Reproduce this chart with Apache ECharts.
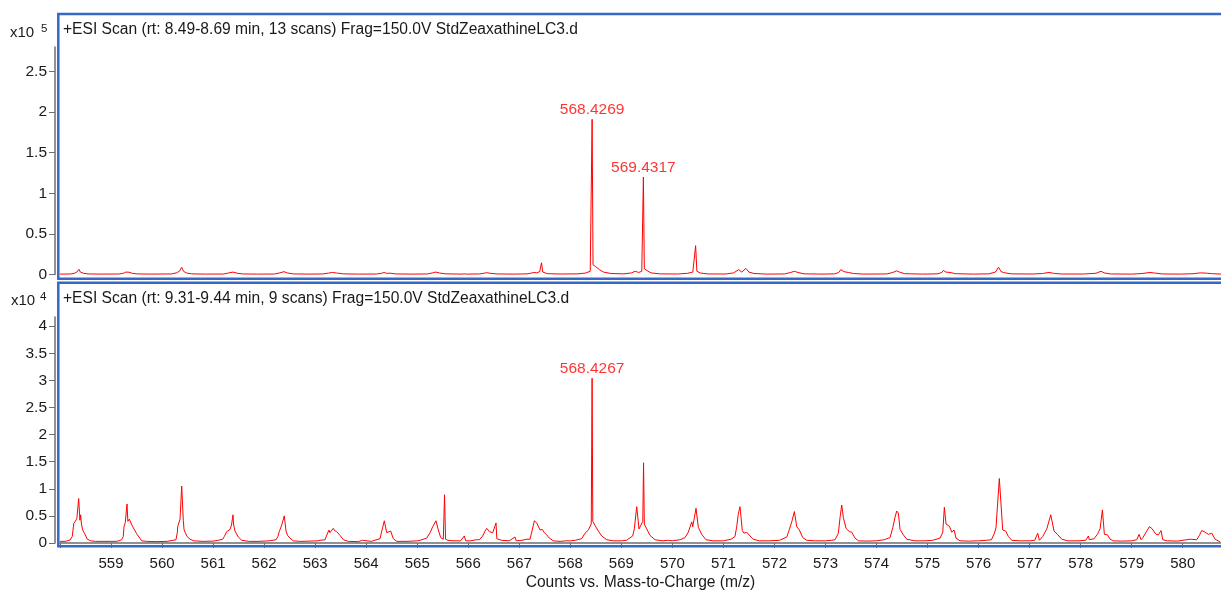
<!DOCTYPE html>
<html>
<head>
<meta charset="utf-8">
<script src="https://cdn.jsdelivr.net/npm/echarts@6/dist/echarts.min.js"></script>
<style>
  html, body { margin: 0; padding: 0; background: #fff; }
  #chart { width: 1221px; height: 591px; }
</style>
</head>
<body>
<div id="chart"></div>
<script>
// Scan titles
const topTitle = '+ESI Scan (rt: 8.49-8.69 min, 13 scans) Frag=150.0V StdZeaxathineLC3.d';
const bottomTitle = '+ESI Scan (rt: 9.31-9.44 min, 9 scans) Frag=150.0V StdZeaxathineLC3.d';
const xAxisTitle = 'Counts vs. Mass-to-Charge (m/z)';

// Axis ticks
const xTickValues = [558, 559, 560, 561, 562, 563, 564, 565, 566, 567, 568, 569, 570, 571, 572, 573, 574, 575, 576, 577, 578, 579, 580];
const xLabelValues = [559, 560, 561, 562, 563, 564, 565, 566, 567, 568, 569, 570, 571, 572, 573, 574, 575, 576, 577, 578, 579, 580];
const topYTicks = [0, 0.5, 1, 1.5, 2, 2.5];
const bottomYTicks = [0, 0.5, 1, 1.5, 2, 2.5, 3, 3.5, 4];

// Upper scan profile: m/z and counts (x10^5)
const topMz = [558.00, 558.20, 558.28, 558.33, 558.37, 558.40, 558.46, 558.55, 558.80,
  559.15, 559.24, 559.29, 559.32, 559.35, 559.42, 559.52, 559.80,
  560.18, 560.28, 560.34, 560.385, 560.42, 560.48, 560.58, 560.85,
  561.20, 561.30, 561.39, 561.47, 561.58, 561.85,
  562.20, 562.31, 562.39, 562.46, 562.58, 562.90,
  563.15, 563.26, 563.34, 563.42, 563.55, 563.85,
  564.20, 564.30, 564.35, 564.40, 564.47, 564.58, 564.90,
  565.20, 565.30, 565.36, 565.44, 565.56, 565.88, 565.92, 565.96,
  566.22, 566.30, 566.36, 566.44, 566.56, 566.90,
  567.15, 567.24, 567.29, 567.34, 567.40, 567.435, 567.46, 567.55, 567.80,
  568.15, 568.30, 568.39, 568.4269, 568.445, 568.49, 568.57, 568.65, 568.80,
  569.05, 569.20, 569.27, 569.30, 569.34, 569.40, 569.4317, 569.45, 569.50, 569.58, 569.75,
  570.10, 570.30, 570.40, 570.455, 570.48, 570.55, 570.70,
  571.05, 571.20, 571.30, 571.36, 571.44, 571.50, 571.60, 571.85,
  572.20, 572.32, 572.39, 572.46, 572.58, 572.95,
  573.18, 573.26, 573.30, 573.36, 573.45, 573.55, 573.75,
  574.20, 574.32, 574.39, 574.45, 574.55, 574.90,
  575.20, 575.28, 575.31, 575.36, 575.44, 575.55, 575.90,
  576.20, 576.33, 576.39, 576.44, 576.52, 576.65,
  577.05, 577.25, 577.38, 577.47, 577.62,
  578.05, 578.30, 578.40, 578.46, 578.58,
  579.00, 579.20, 579.30, 579.36, 579.45, 579.60, 579.95,
  580.22, 580.30, 580.37, 580.47, 580.58, 580.75];
const topCounts = [0.005, 0.006, 0.015, 0.03, 0.064, 0.03, 0.015, 0.007, 0.005,
  0.006, 0.015, 0.03, 0.047, 0.028, 0.014, 0.007, 0.005,
  0.007, 0.02, 0.04, 0.089, 0.04, 0.018, 0.008, 0.005,
  0.006, 0.018, 0.03, 0.016, 0.007, 0.005,
  0.006, 0.02, 0.035, 0.018, 0.007, 0.005,
  0.007, 0.017, 0.025, 0.018, 0.008, 0.005,
  0.006, 0.015, 0.025, 0.014, 0.016, 0.007, 0.005,
  0.007, 0.02, 0.03, 0.018, 0.008, 0.005, 0.009, 0.005,
  0.007, 0.015, 0.022, 0.014, 0.007, 0.005,
  0.008, 0.018, 0.025, 0.02, 0.035, 0.145, 0.03, 0.01, 0.006,
  0.008, 0.018, 0.04, 1.91, 0.12, 0.10, 0.06, 0.03, 0.012,
  0.008, 0.02, 0.04, 0.05, 0.025, 0.04, 1.20, 0.07, 0.05, 0.02, 0.008,
  0.006, 0.015, 0.03, 0.355, 0.04, 0.018, 0.007,
  0.006, 0.02, 0.06, 0.03, 0.075, 0.03, 0.012, 0.005,
  0.007, 0.025, 0.04, 0.025, 0.008, 0.005,
  0.008, 0.025, 0.06, 0.035, 0.025, 0.012, 0.005,
  0.007, 0.025, 0.045, 0.03, 0.01, 0.005,
  0.008, 0.025, 0.05, 0.03, 0.025, 0.01, 0.005,
  0.008, 0.03, 0.09, 0.035, 0.02, 0.008,
  0.006, 0.012, 0.025, 0.015, 0.006,
  0.006, 0.015, 0.04, 0.02, 0.007,
  0.005, 0.012, 0.02, 0.025, 0.018, 0.007, 0.005,
  0.01, 0.017, 0.02, 0.016, 0.01, 0.005];

// Lower scan profile: m/z and counts (x10^4)
const bottomMz = [558.00, 558.10, 558.196, 558.24, 558.27, 558.30, 558.33, 558.366, 558.39, 558.405, 558.42, 558.445, 558.48, 558.535, 558.60, 558.70,
  559.10, 559.123, 559.15, 559.209, 559.24, 559.254, 559.28, 559.313, 559.33, 559.358, 559.425, 559.503, 559.534, 559.601, 559.70, 559.90,
  560.10, 560.273, 560.30, 560.306, 560.352, 560.385, 560.416, 560.43, 560.455, 560.49, 560.548, 560.62, 560.80,
  561.00, 561.10, 561.188, 561.22, 561.267, 561.331, 561.36, 561.39, 561.40, 561.429, 561.494, 561.561, 561.70, 561.90,
  562.10, 562.233, 562.27, 562.297, 562.344, 562.395, 562.429, 562.46, 562.507, 562.572, 562.70, 562.90,
  563.05, 563.095, 563.193, 563.23, 563.271, 563.29, 563.356, 563.38, 563.422, 563.487, 563.552, 563.65, 563.85, 563.924, 563.95,
  564.10, 564.134, 564.271, 564.30, 564.355, 564.402, 564.42, 564.48, 564.531, 564.598, 564.80,
  565.00, 565.055, 565.186, 565.251, 565.303, 565.32, 565.368, 565.413, 565.46, 565.511, 565.535, 565.555, 565.60, 565.70, 565.85, 565.923, 565.95,
  566.05, 566.15, 566.217, 566.283, 566.328, 566.362, 566.413, 566.479, 566.544, 566.56, 566.65, 566.80, 566.917, 566.94,
  567.05, 567.15, 567.21, 567.244, 567.295, 567.342, 567.373, 567.406, 567.451, 567.49, 567.537, 567.588, 567.666, 567.80, 567.91,
  568.00, 568.10, 568.223, 568.288, 568.353, 568.386, 568.41, 568.4267, 568.44, 568.498, 568.549, 568.615, 568.713, 568.85,
  569.00, 569.10, 569.222, 569.254, 569.301, 569.346, 569.385, 569.42, 569.435, 569.45, 569.497, 569.562, 569.66, 569.80, 569.92,
  570.00, 570.15, 570.248, 570.312, 570.379, 570.398, 570.463, 570.508, 570.574, 570.659, 570.80,
  571.00, 571.15, 571.227, 571.26, 571.292, 571.325, 571.37, 571.403, 571.456, 571.521, 571.585, 571.70, 571.90,
  572.10, 572.241, 572.292, 572.339, 572.39, 572.437, 572.488, 572.554, 572.633, 572.80,
  573.00, 573.12, 573.187, 573.252, 573.285, 573.318, 573.35, 573.403, 573.467, 573.514, 573.579, 573.644, 573.80,
  574.00, 574.15, 574.265, 574.318, 574.363, 574.396, 574.428, 574.461, 574.526, 574.592, 574.75, 574.95,
  575.10, 575.245, 575.298, 575.329, 575.362, 575.395, 575.427, 575.474, 575.519, 575.558, 575.636, 575.80,
  576.00, 576.15, 576.251, 576.302, 576.341, 576.406, 576.473, 576.532, 576.583, 576.65, 576.80,
  577.00, 577.10, 577.159, 577.191, 577.22, 577.257, 577.302, 577.336, 577.36, 577.414, 577.44, 577.479, 577.544, 577.63, 577.75, 577.95,
  578.10, 578.151, 578.17, 578.263, 578.328, 578.38, 578.426, 578.465, 578.524, 578.577, 578.642, 578.80,
  579.00, 579.10, 579.144, 579.184, 579.22, 579.295, 579.346, 579.393, 579.424, 579.477, 579.522, 579.575, 579.608, 579.70, 579.90,
  580.149, 580.18, 580.275, 580.326, 580.373, 580.438, 580.503, 580.569, 580.634, 580.732];
const bottomCounts = [0.03, 0.03, 0.055, 0.12, 0.36, 0.40, 0.45, 0.82, 0.42, 0.52, 0.35, 0.24, 0.18, 0.07, 0.04, 0.03,
  0.03, 0.05, 0.04, 0.06, 0.12, 0.30, 0.38, 0.72, 0.40, 0.44, 0.30, 0.17, 0.16, 0.04, 0.03, 0.025,
  0.03, 0.06, 0.20, 0.30, 0.44, 1.05, 0.42, 0.25, 0.19, 0.12, 0.07, 0.04, 0.03,
  0.035, 0.05, 0.07, 0.12, 0.21, 0.25, 0.33, 0.52, 0.35, 0.22, 0.11, 0.05, 0.03, 0.03,
  0.04, 0.06, 0.12, 0.21, 0.33, 0.50, 0.22, 0.14, 0.09, 0.04, 0.03, 0.035,
  0.04, 0.05, 0.06, 0.15, 0.24, 0.19, 0.27, 0.23, 0.21, 0.14, 0.06, 0.03, 0.025, 0.05, 0.025,
  0.03, 0.04, 0.08, 0.20, 0.41, 0.19, 0.17, 0.22, 0.08, 0.03, 0.03,
  0.04, 0.05, 0.09, 0.19, 0.30, 0.27, 0.41, 0.24, 0.10, 0.07, 0.89, 0.07, 0.05, 0.04, 0.04, 0.13, 0.04,
  0.04, 0.06, 0.06, 0.13, 0.22, 0.27, 0.21, 0.19, 0.37, 0.08, 0.05, 0.04, 0.11, 0.04,
  0.05, 0.07, 0.07, 0.20, 0.41, 0.37, 0.39, 0.24, 0.25, 0.19, 0.15, 0.09, 0.04, 0.03, 0.04,
  0.04, 0.05, 0.08, 0.18, 0.24, 0.26, 0.35, 3.04, 0.40, 0.30, 0.22, 0.13, 0.06, 0.04,
  0.04, 0.05, 0.13, 0.26, 0.67, 0.26, 0.24, 0.40, 1.48, 0.35, 0.26, 0.14, 0.06, 0.04, 0.05,
  0.04, 0.06, 0.10, 0.20, 0.39, 0.30, 0.64, 0.29, 0.16, 0.06, 0.04,
  0.04, 0.07, 0.12, 0.30, 0.54, 0.67, 0.23, 0.18, 0.20, 0.13, 0.07, 0.04, 0.04,
  0.05, 0.11, 0.25, 0.39, 0.58, 0.30, 0.24, 0.10, 0.05, 0.04,
  0.04, 0.05, 0.06, 0.18, 0.47, 0.70, 0.47, 0.27, 0.21, 0.20, 0.09, 0.04, 0.035,
  0.04, 0.06, 0.10, 0.28, 0.48, 0.59, 0.55, 0.25, 0.15, 0.07, 0.04, 0.04,
  0.05, 0.09, 0.20, 0.66, 0.35, 0.38, 0.31, 0.20, 0.24, 0.09, 0.04, 0.035,
  0.04, 0.05, 0.06, 0.16, 0.28, 1.19, 0.24, 0.22, 0.12, 0.05, 0.04,
  0.04, 0.05, 0.18, 0.05, 0.06, 0.12, 0.20, 0.26, 0.24, 0.52, 0.50, 0.22, 0.16, 0.07, 0.04, 0.04,
  0.05, 0.13, 0.06, 0.08, 0.16, 0.26, 0.61, 0.16, 0.15, 0.07, 0.04, 0.035,
  0.04, 0.06, 0.16, 0.06, 0.10, 0.22, 0.30, 0.27, 0.24, 0.16, 0.15, 0.23, 0.06, 0.04, 0.035,
  0.07, 0.05, 0.06, 0.14, 0.23, 0.20, 0.16, 0.18, 0.07, 0.02];

// Annotated peaks [m/z, counts]
const topPeaks = [[568.4269, 1.91], [569.4317, 1.20]];
const bottomPeaks = [[568.4267, 3.04]];

const FONT = '"Liberation Sans", Arial, sans-serif';
const FRAME = '#3668c6';
const AXIS_GRAY = '#6e6e6e';
const TEXT = '#1a1a1a';
const TRACE = '#ff0000';

const zip = (a, b) => a.map((v, i) => [v, b[i]]);

const chart = echarts.init(document.getElementById('chart'), null, { renderer: 'canvas' });

function yAxisFor(gridIndex, max, ticks) {
  return {
    type: 'value', gridIndex, min: 0, max,
    offset: 5,
    axisLine: { show: true, lineStyle: { color: AXIS_GRAY, width: 1.5 } },
    axisTick: { show: true, length: 6, customValues: ticks, lineStyle: { color: AXIS_GRAY, width: 1 } },
    axisLabel: { show: true, customValues: ticks, margin: 8, fontSize: 15.5, color: TEXT, fontFamily: FONT },
    splitLine: { show: false }
  };
}

const peakLabel = {
  show: true, position: 'top', distance: 1.5,
  formatter: p => p.value[0].toFixed(4),
  color: TRACE, fontSize: 15.5, fontFamily: FONT
};

chart.setOption({
  animation: false,
  backgroundColor: '#ffffff',
  grid: [
    { left: 60, right: 0, top: 47, height: 227.5, containLabel: false, outerBoundsMode: 'none' },
    { left: 60, right: 0, top: 317, height: 226, containLabel: false, outerBoundsMode: 'none' }
  ],
  xAxis: [
    { type: 'value', gridIndex: 0, min: 558, max: 580.75, show: false },
    {
      type: 'value', gridIndex: 1, min: 558, max: 580.75,
      offset: 6,
      name: xAxisTitle, nameLocation: 'middle', nameGap: 26,
      nameTextStyle: { fontSize: 15.6, color: TEXT, fontFamily: FONT },
      axisLine: { show: true, lineStyle: { color: AXIS_GRAY, width: 1.5 } },
      axisTick: { show: true, length: 5, customValues: xTickValues, lineStyle: { color: AXIS_GRAY, width: 1 } },
      axisLabel: { show: true, customValues: xLabelValues, margin: 7, fontSize: 15, color: TEXT, fontFamily: FONT },
      splitLine: { show: false }
    }
  ],
  yAxis: [
    yAxisFor(0, 2.8, topYTicks),
    yAxisFor(1, 4.17, bottomYTicks)
  ],
  series: [
    {
      type: 'line', xAxisIndex: 0, yAxisIndex: 0,
      data: zip(topMz, topCounts),
      showSymbol: false, symbol: 'none',
      lineStyle: { color: TRACE, width: 1 }
    },
    {
      type: 'line', xAxisIndex: 1, yAxisIndex: 1,
      data: zip(bottomMz, bottomCounts),
      showSymbol: false, symbol: 'none',
      lineStyle: { color: TRACE, width: 1 }
    },
    {
      type: 'scatter', xAxisIndex: 0, yAxisIndex: 0,
      data: topPeaks, symbolSize: 0, label: peakLabel, silent: true
    },
    {
      type: 'scatter', xAxisIndex: 1, yAxisIndex: 1,
      data: bottomPeaks, symbolSize: 0, label: peakLabel, silent: true
    }
  ],
  graphic: [
    // panel frames
    { type: 'rect', shape: { x: 58.3, y: 14, width: 1300, height: 264.7 },
      style: { fill: null, stroke: FRAME, lineWidth: 2.5 }, z: 10 },
    { type: 'rect', shape: { x: 58.3, y: 282.7, width: 1300, height: 263.6 },
      style: { fill: null, stroke: FRAME, lineWidth: 2.5 }, z: 10 },
    // scan headers
    { type: 'text', left: 63, top: 22, z: 11,
      style: { text: topTitle, fontSize: 15.6, fill: TEXT, fontFamily: FONT } },
    { type: 'text', left: 63, top: 291, z: 11,
      style: { text: bottomTitle, fontSize: 15.6, fill: TEXT, fontFamily: FONT } },
    // intensity multipliers
    { type: 'text', left: 10, top: 25, z: 11,
      style: { text: 'x10', fontSize: 15, fill: TEXT, fontFamily: FONT } },
    { type: 'text', left: 41, top: 23, z: 11,
      style: { text: '5', fontSize: 11.5, fill: TEXT, fontFamily: FONT } },
    { type: 'text', left: 11, top: 293, z: 11,
      style: { text: 'x10', fontSize: 15, fill: TEXT, fontFamily: FONT } },
    { type: 'text', left: 40, top: 291, z: 11,
      style: { text: '4', fontSize: 11.5, fill: TEXT, fontFamily: FONT } }
  ]
});
</script>
</body>
</html>
